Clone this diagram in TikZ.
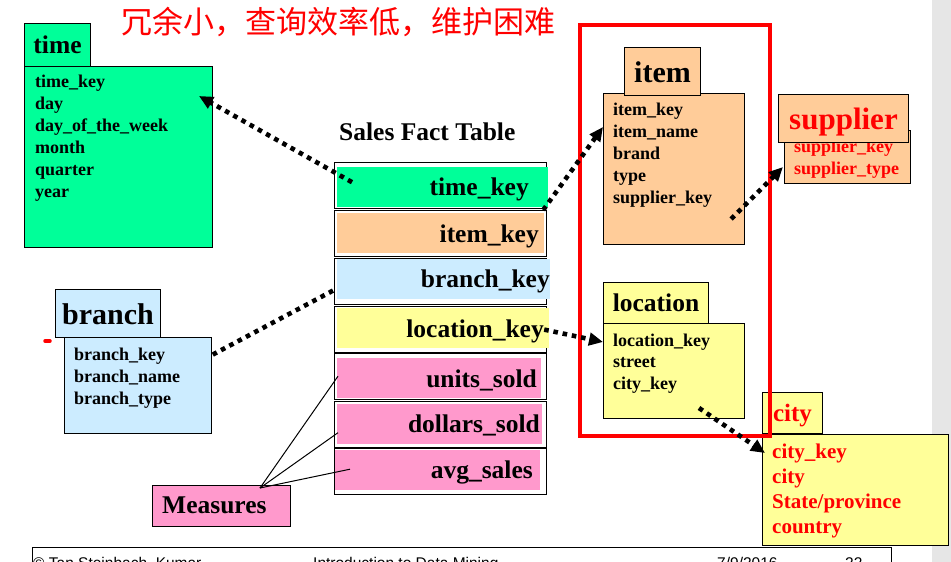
\documentclass[tikz,border=0pt]{standalone}
\usepackage{fontspec}
\setmainfont{Liberation Serif}
\newfontfamily\cjk{Noto Sans CJK SC}
\newfontfamily\footfont{Liberation Sans}
\usetikzlibrary{arrows.meta,calc}
\definecolor{timegreen}{HTML}{00FF99}
\definecolor{itemorange}{HTML}{FFCC99}
\definecolor{branchblue}{HTML}{CCECFF}
\definecolor{locyellow}{HTML}{FFFF99}
\definecolor{measpink}{HTML}{FF99CC}
\definecolor{slidegray}{HTML}{E6E6E6}
\newcommand{\fsz}[1]{\fontsize{#1}{#1}\selectfont}
\tikzset{
  box/.style={draw, line width=1pt, inner sep=0pt, anchor=north west},
  head/.style n args={2}{box, font=\bfseries\fsz{#1}, text height=#2, text depth=0pt},
  attr/.style={anchor=base west, inner sep=0pt, font=\bfseries\fsz{18}},
  factrow/.style={draw, line width=1.2pt, anchor=north west, minimum width=212, minimum height=46, inner sep=0pt},
  factfill/.style={anchor=north west, inner sep=0pt, minimum height=40},
  factkey/.style={anchor=base east, inner sep=0pt, font=\bfseries\fsz{25.5}},
  foot/.style={anchor=base west, inner sep=0pt, font=\footfont\fsz{15.5}},
  measline/.style={line width=1pt},
  dotlink/.style={line width=4.6pt, dash pattern=on 4.6pt off 4.8pt},
  headtip/.style={-{Triangle[length=14pt,width=12.5pt]}}
}
\begin{document}
\begin{tikzpicture}[x=1pt, y=-1pt]
  \useasboundingbox (0,0) rectangle (951,562);
  \fill[white] (0,0) rectangle (951,562);
  \fill[slidegray] (932,0) rectangle (951,562);
  % title
  \node[anchor=base west, inner sep=0pt, text=red, font=\cjk\fsz{31}] (title) at (121,34) {冗余小，查询效率低，维护困难};
  % time dimension
  \node[box, fill=timegreen, minimum width=188, minimum height=181] (timebody) at (24,66) {};
  \node[head={25.5}{17.9pt}, fill=timegreen, minimum width=66, minimum height=43] (timehead) at (24,23) {time};
  \foreach \a [count=\i from 0] in {time\_key, day, day\_of\_the\_week, month, quarter, year}
    \node[attr] (time\i) at (35,87+22*\i) {\a};
  % fact table
  \node[anchor=base west, inner sep=0pt, font=\bfseries\fsz{25.5}] (facttitle) at (339,140) {Sales Fact Table};
  \foreach \n/\lab/\col/\yr/\xl/\xr/\yf/\xt/\yt in {
      time/time\_key/timegreen/162/337/548/167/529/195,
      item/item\_key/itemorange/210/337/544/213/539/242,
      branch/branch\_key/branchblue/258/337/550/259/550/287,
      location/location\_key/locyellow/306/337/549/308/544/337,
      units/units\_sold/measpink/353/337/541/358/537/387,
      dollars/dollars\_sold/measpink/401/337/542/404/540/432,
      avg/avg\_sales/measpink/448/335/540/450/533/478}
  {
    \node[factrow] (row\n) at (334,\yr) {};
    \node[factfill, fill=\col, minimum width=\xr-\xl] (fill\n) at (\xl,\yf) {};
    \node[factkey] (key\n) at (\xt,\yt) {\lab};
  }
  % item dimension
  \node[box, fill=itemorange, minimum width=141, minimum height=151] (itembody) at (603,93) {};
  \node[head={30}{21pt}, fill=itemorange, minimum width=76, minimum height=48] (itemhead) at (624,47) {item};
  \foreach \a [count=\i from 0] in {item\_key, item\_name, brand, type, supplier\_key}
    \node[attr] (item\i) at (613,115+22*\i) {\a};
  % supplier
  \node[box, fill=itemorange, minimum width=126, minimum height=53] (supbody) at (784,130) {};
  \foreach \a [count=\i from 0] in {supplier\_key, supplier\_type}
    \node[attr, text=red] (sup\i) at (794,152+22*\i) {\a};
  \node[head={31}{21.7pt}, fill=itemorange, text=red, minimum width=130, minimum height=48] (suphead) at (778,94) {supplier};
  % location dimension
  \node[box, fill=locyellow, minimum width=141, minimum height=95] (locbody) at (603,323) {};
  \node[head={25.5}{17.9pt}, fill=locyellow, minimum width=105, minimum height=41] (lochead) at (603,282) {location};
  \foreach \a [count=\i from 0] in {location\_key, street, city\_key}
    \node[attr] (loc\i) at (613,346+21.5*\i) {\a};
  % branch dimension
  \node[box, fill=branchblue, minimum width=147, minimum height=96] (branchbody) at (64,337) {};
  \node[head={30}{21pt}, fill=branchblue, minimum width=105, minimum height=48] (branchhead) at (55,289) {branch};
  \foreach \a [count=\i from 0] in {branch\_key, branch\_name, branch\_type}
    \node[attr] (branch\i) at (74,360+22*\i) {\a};
  \draw[red, line width=3.5pt, line cap=round] (45,341) -- (50,341);
  % city
  \node[box, fill=locyellow, minimum width=186, minimum height=111] (citybody) at (762,434) {};
  \node[head={25}{17.5pt}, fill=locyellow, text=red, minimum width=60, minimum height=41] (cityhead) at (762,392) {city};
  \foreach \a [count=\i from 0] in {city\_key, city, State/province, country}
    \node[attr, font=\bfseries\fsz{21}, text=red] (city\i) at (772,458+25*\i) {\a};
  % measures
  \node[box, fill=measpink, minimum width=138, minimum height=41] (meas) at (152,485) {};
  \node[anchor=base west, inner sep=0pt, font=\bfseries\fsz{25.5}] (meastext) at (162,513) {Measures};
  % snowflake frame
  \draw[red, line width=4pt] (580,25) rectangle (770,436);
  % footer
  \node[box, minimum width=859, minimum height=40] (footer) at (32,547) {};
  \node[foot] (footcopy) at (33,568) {© Tan,Steinbach, Kumar};
  \node[foot] (footbook) at (313,568) {Introduction to Data Mining};
  \node[foot] (footdate) at (717,568) {7/9/2016};
  \node[foot] (footpage) at (845,568) {22};
  % links
  \coordinate (mfoot) at ($(meas.north west)+(108,3)$);
  \draw[measline] (mfoot) -- ($(fillunits.west)+(1,-2)$);
  \draw[measline] (mfoot) -- ($(filldollars.west)+(1,8.5)$);
  \draw[measline] (mfoot) -- ($(fillavg.west)+(15,-1)$);
  \draw[dotlink, headtip] ($(filltime.west)+(15,-5)$) -- ($(timebody.north east)+(-14,30)$);
  \draw[dotlink, headtip] ($(rowitem.north east)+(-4,0)$) -- ($(itembody.north west)+(0,34)$);
  \draw[dotlink] ($(rowbranch.west)+(-1,9)$) -- ($(branchbody.north east)+(0,18)$);
  \draw[dotlink, headtip] ($(rowlocation.east)+(-3,0)$) -- ($(locbody.north west)+(0,19)$);
  \draw[dotlink, headtip] ($(itembody.south east)+(-14,-26)$) -- ($(supbody.north west)+(-1,37)$);
  \draw[dotlink, headtip] ($(locbody.south east)+(-46,-11)$) -- ($(citybody.north west)+(3,19)$);
\end{tikzpicture}
\end{document}
